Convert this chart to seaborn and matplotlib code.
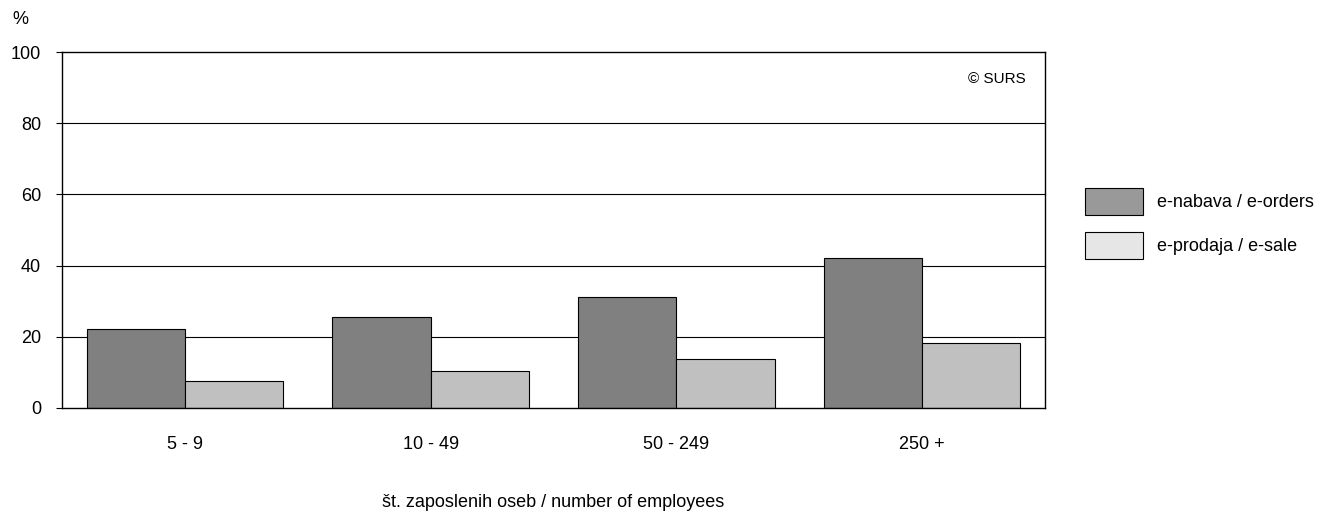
import numpy as np
import pandas as pd
import matplotlib
matplotlib.use('Agg')
import matplotlib.pyplot as plt
import seaborn as sns
from matplotlib.patches import Patch

# Podatki (odčitano s slike)
skupine = ['5 - 9', '10 - 49', '50 - 249', '250 +']
e_nabava = [22.2, 25.5, 31.2, 42.2]
e_prodaja = [7.7, 10.4, 13.8, 18.2]
serije = ['e-nabava / e-orders', 'e-prodaja / e-sale']

df = pd.DataFrame({
    'skupina': skupine * 2,
    'vrednost': e_nabava + e_prodaja,
    'serija': [serije[0]] * 4 + [serije[1]] * 4,
})

sns.set_style('white')
plt.rcParams['font.family'] = ['Liberation Sans', 'DejaVu Sans']
plt.rcParams['text.color'] = 'black'
plt.rcParams['xtick.color'] = 'black'
plt.rcParams['ytick.color'] = 'black'
plt.rcParams['axes.labelcolor'] = 'black'

fig = plt.figure(figsize=(13.42, 5.11), dpi=100)
ax = fig.add_axes([62 / 1342, 1 - 408 / 511, 983 / 1342, 356 / 511])

sns.barplot(data=df, x='skupina', y='vrednost', hue='serija', order=skupine,
            hue_order=serije, palette=['#808080', '#c0c0c0'], saturation=1,
            edgecolor='black', linewidth=0.8, width=0.8, gap=0, legend=False, ax=ax)

ax.set_ylim(0, 100)
ax.set_xlim(-0.5, 3.5)
ax.set_yticks([0, 20, 40, 60, 80, 100])
for y in [20, 40, 60, 80]:
    ax.axhline(y, color='black', lw=0.8, zorder=0)

for s in ax.spines.values():
    s.set_visible(True)
    s.set_color('black')
    s.set_linewidth(1.0)

ax.tick_params(axis='y', direction='out', length=4, width=0.8, pad=11, labelsize=13, left=True)
ax.tick_params(axis='x', length=0, pad=20, labelsize=13)
ax.set_ylabel('')
ax.set_xlabel('št. zaposlenih oseb / number of employees', fontsize=13, labelpad=30)

fig.text(20 / 1342, 1 - 20 / 511, '%', fontsize=13, ha='center', va='center')
ax.text(0.98, 0.924, '© SURS', transform=ax.transAxes, ha='right', va='center', fontsize=11)

handles = [Patch(facecolor='#999999', edgecolor='black', lw=0.8),
           Patch(facecolor='#e6e6e6', edgecolor='black', lw=0.8)]
fig.legend(handles, serije, loc='upper left', bbox_to_anchor=(1085 / 1342, 1 - 188 / 511),
           bbox_transform=fig.transFigure, frameon=False, borderpad=0, borderaxespad=0,
           fontsize=13, handlelength=3.2, handleheight=1.9, handletextpad=0.8, labelspacing=0.95)

fig.savefig('out.png', dpi=100)
